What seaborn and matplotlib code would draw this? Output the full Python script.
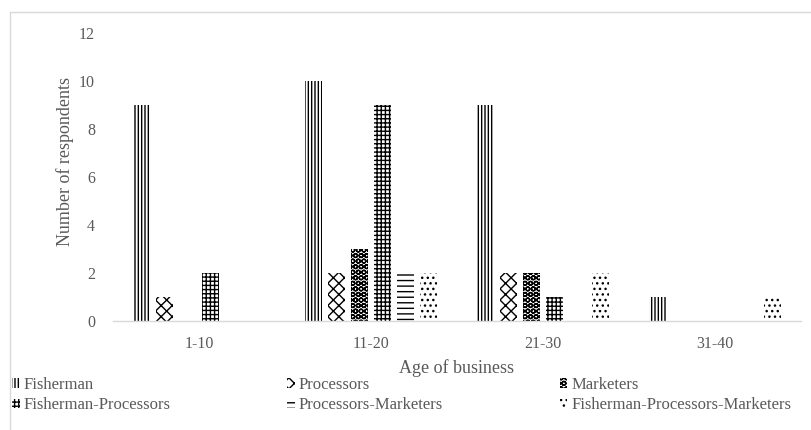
import matplotlib
matplotlib.use("Agg")
import matplotlib.pyplot as plt
import seaborn as sns
import pandas as pd
from matplotlib.patches import Rectangle, Patch

categories = ["1-10", "11-20", "21-30", "31-40"]
series = ["Fisherman", "Processors", "Marketers", "Fisherman-Processors",
          "Processors-Marketers", "Fisherman-Processors-Marketers"]
fisherman = [9, 10, 9, 1]
processors = [1, 2, 2, 0]
marketers = [0, 3, 2, 0]
fisher_proc = [2, 9, 1, 0]
proc_mark = [0, 2, 0, 0]
fish_proc_mark = [0, 2, 2, 1]
y_ticks = [0, 2, 4, 6, 8, 10, 12]
x_label = "Age of business"
y_label = "Number of respondents"

values = [fisherman, processors, marketers, fisher_proc, proc_mark, fish_proc_mark]
rows = []
for s, vals in zip(series, values):
    for c, v in zip(categories, vals):
        rows.append({"Age": c, "Type": s, "Count": v})
df = pd.DataFrame(rows)

hatches = ['|||||', 'xxx', 'OOO', '++++', '---', '...']
TXT = '#595959'
GRID = '#d9d9d9'

sns.set_theme(style="white")
plt.rcParams['font.family'] = ['Liberation Serif', 'DejaVu Serif']
plt.rcParams['hatch.linewidth'] = 1.0

fig = plt.figure(figsize=(8.12, 4.30), dpi=100)
ax = fig.add_axes([113/812, 1-321/430, (801-113)/812, (321-33)/430])

sns.barplot(data=df, x="Age", y="Count", hue="Type", order=categories,
            hue_order=series, palette=['white']*6, edgecolor='black',
            linewidth=0, width=0.8, gap=0.26, legend=False, ax=ax)

for cont, h in zip(ax.containers, hatches):
    for p in cont.patches:
        p.set_hatch(h)
        p.set_facecolor('white')
        p.set_edgecolor('black')
        p.set_linewidth(0)

ax.set_ylim(0, 12)
ax.set_xlim(-0.5, 3.5)
ax.set_yticks(y_ticks)
ax.set_yticklabels([str(t) for t in y_ticks])
ax.tick_params(axis='y', length=0, pad=13, labelsize=11.5, labelcolor=TXT)
ax.tick_params(axis='x', which='major', length=0, pad=11, labelsize=11.5, labelcolor=TXT)
ax.set_xticks([-0.5, 0.5, 1.5, 2.5, 3.5], minor=True)
ax.tick_params(axis='x', which='minor', length=5, color=GRID, width=1, direction='out')
for sp in ['left', 'right', 'top']:
    ax.spines[sp].set_visible(False)
ax.spines['bottom'].set_color(GRID)
ax.spines['bottom'].set_linewidth(1)
ax.grid(False)

ax.set_xlabel(x_label, fontsize=13, color=TXT, labelpad=5)
ax.set_ylabel(y_label, fontsize=13, color=TXT)
ax.yaxis.set_label_coords(-0.057, (321-161)/288)

handles = [Patch(facecolor='white', edgecolor='black', hatch=h, linewidth=0, label=s)
           for s, h in zip(series, hatches)]
order = [0, 3, 1, 4, 2, 5]
leg = fig.legend(handles=[handles[i] for i in order], ncol=3, loc='upper left',
                 bbox_to_anchor=(12/812, 1 - 377/430),
                 frameon=False, fontsize=12, handlelength=0.45, handleheight=0.5,
                 handletextpad=0.25, labelspacing=0.25, columnspacing=7.0,
                 borderaxespad=0.0, borderpad=0.0)
for t in leg.get_texts():
    t.set_color(TXT)

fig.add_artist(Rectangle((10/812, -0.1), 1.2, 1 - 12/430 + 0.1,
                         transform=fig.transFigure, fill=False,
                         edgecolor=GRID, linewidth=1))

fig.savefig("out.png", dpi=100)
